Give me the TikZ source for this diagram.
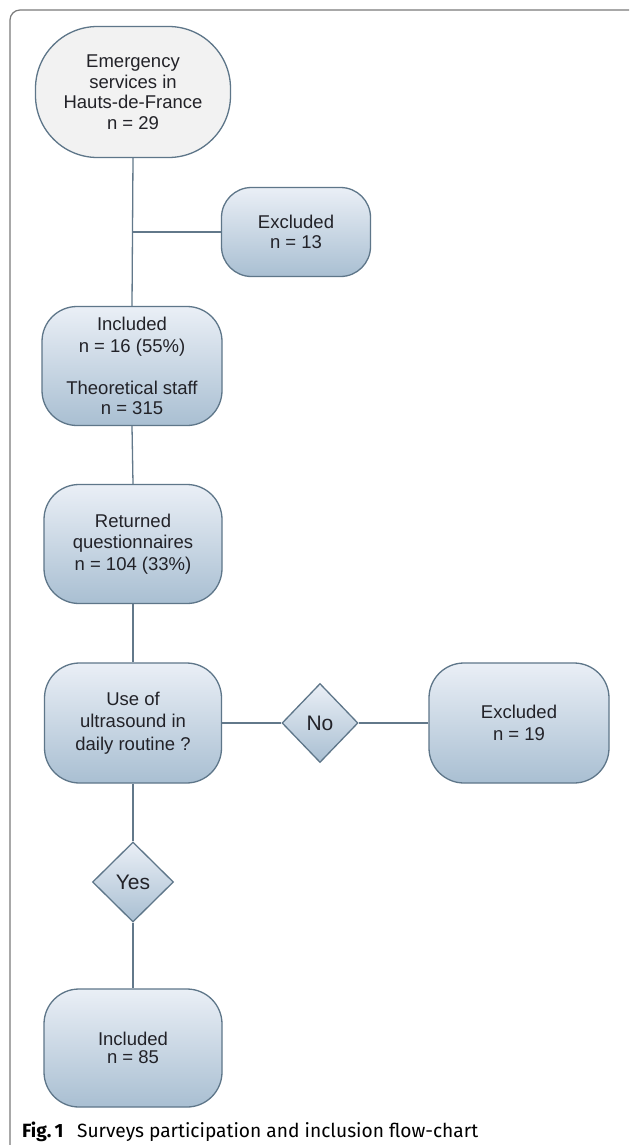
\documentclass[tikz,border=0pt]{standalone}
\usepackage{graphicx}
\usepackage{fontspec}
\setmainfont{Liberation Sans}
\newfontfamily\capfont{Fira Sans}
\usetikzlibrary{shapes.geometric}
\definecolor{lc}{HTML}{62788A}
\definecolor{bc}{HTML}{5E7689}
\definecolor{ftop}{HTML}{EAEFF6}
\definecolor{fbot}{HTML}{A9BFD2}
\definecolor{tc}{HTML}{222228}
\definecolor{framec}{HTML}{7A7A7A}
\definecolor{ellfill}{HTML}{F2F2F2}
\tikzset{
  x=1pt, y=-1pt,
  conn/.style={draw=lc, line width=1.3pt},
  boxtext/.style={align=center, text=tc, font=\fontsize{18.5}{21.5}\selectfont, inner sep=0pt},
  flowbox/.style={boxtext, draw=bc, line width=1.3pt, rounded corners=35pt, top color=ftop, bottom color=fbot},
  choice/.style={boxtext, diamond, draw=bc, line width=1.3pt, top color=ftop, bottom color=fbot, font=\fontsize{21}{24}\selectfont},
}
\begin{document}
\begin{tikzpicture}
\useasboundingbox (0,0) rectangle (629,1145);
\clip (0,0) rectangle (629,1145);
\fill[white] (0,0) rectangle (629,1145);
\draw[framec, line width=1.2pt, rounded corners=10pt] (10,10) rectangle (640,1156);

\node[boxtext, draw=bc, line width=1.3pt, rounded corners=62pt, fill=ellfill,
      minimum width=195pt, minimum height=131pt] (start) at (133,92)
      {Emergency\\[-1pt] services in\\[-1pt] Hauts-de-France\\[-1pt] n = 29};
\node[flowbox, minimum width=149pt, minimum height=89pt, rounded corners=30pt] (exc1) at (296,232)
      {Excluded\\[-2pt] n = 13};
\node[flowbox, minimum width=180pt, minimum height=119pt] (inc1) at (132,366)
      {Included\\ n = 16 (55\%)\\[21pt] Theoretical staff\\[-2pt] n = 315};
\node[flowbox, minimum width=178pt, minimum height=119pt] (ret) at (133,544)
      {Returned\\ questionnaires\\ n = 104 (33\%)};
\node[flowbox, minimum width=177pt, minimum height=120pt] (use) at (133,723)
      {Use of\\[1pt] ultrasound in\\[1pt] daily routine ?};
\node[choice, minimum width=76pt, minimum height=79pt] (no) at (320,723) {No};
\node[flowbox, minimum width=180pt, minimum height=120pt] (exc2) at (519,723)
      {Excluded\\ n = 19};
\node[choice, minimum width=81pt, minimum height=80pt] (yes) at (133,882) {Yes};
\node[flowbox, minimum width=178pt, minimum height=118pt] (inc2) at (133,1048)
      {Included\\[-4pt] n = 85};

\coordinate (br) at (133,232);
\draw[conn] (start.south) -- (inc1.north);
\draw[conn] (br) -- (exc1.west);
\draw[conn] (inc1.south) -- (ret.north);
\draw[conn] (ret.south) -- (use.north);
\draw[conn] (use.east) -- (no.west);
\draw[conn] (no.east) -- (exc2.west);
\draw[conn] (use.south) -- (yes.north);
\draw[conn] (yes.south) -- (inc2.north);

\node[anchor=base west, inner sep=0pt, text=black] (cap) at (22,1137)
  {\resizebox{456pt}{!}{\capfont\fontsize{19}{22}\selectfont\textbf{Fig.\,1}\hspace{0.7em}Surveys participation and inclusion flow-chart}};
\end{tikzpicture}
\end{document}
